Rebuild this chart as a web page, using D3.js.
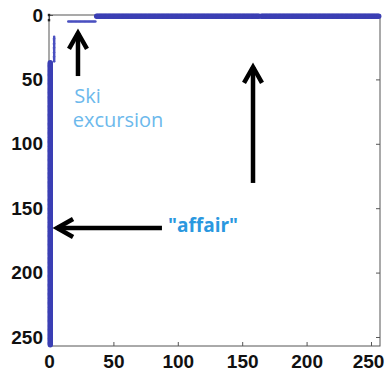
<!DOCTYPE html>
<html><head><meta charset="utf-8">
<script src="https://cdn.jsdelivr.net/npm/d3@7"></script>
<style>body{margin:0;background:#fff}svg{display:block}</style>
</head><body><svg id="c" width="385" height="378"></svg>
<script>
// Sparse matrix (spy plot), n = 256. Nonzero runs.
const n = 256;
// horizontal runs: row, first col, last col
const hRunRow   = [1, 1, 5];
const hRunFrom  = [37, 165, 15];
const hRunTo    = [163, 256, 36];
const hRunWeak  = [0, 0, 1];
// vertical runs: col, first row, last row
const vRunCol   = [1, 4];
const vRunFrom  = [37, 17];
const vRunTo    = [256, 36];
const vRunWeak  = [0, 1];
// isolated dark entries near origin
const dotRow = [0, 4];
const dotCol = [0, 0];
const tickVals = [0, 50, 100, 150, 200, 250];
// annotations (data coords: col, row)
const arrowTipCol  = [22.5, 158.4, 4.7];
const arrowTipRow  = [12.4, 38.8, 165.4];
const arrowTailCol = [22.5, 158.4, 87.7];
const arrowTailRow = [47.4, 130.4, 165.4];
const labelText = ["Ski", "excursion", "\"affair\""];
const labelCol  = [19.6, 18.4, 92.4];
const labelRow  = [68.3, 87.3, 168.8];
const labelColor = ["#6cb9ec", "#6cb9ec", "#2a98df"];
const labelWeight = ["normal", "normal", "bold"];
const labelSize = [20, 20, 19];

const svg = d3.select("#c");
const x = d3.scaleLinear().domain([0, n + 1]).range([49, 380]);
const y = d3.scaleLinear().domain([0, n + 1]).range([15, 346]);

// build points
const pts = [];
hRunRow.forEach((r, i) => d3.range(hRunFrom[i], hRunTo[i] + 1).forEach(c => pts.push({r, c, w: hRunWeak[i]})));
vRunCol.forEach((c, i) => d3.range(vRunFrom[i], vRunTo[i] + 1).forEach(r => pts.push({r, c, w: vRunWeak[i]})));

// frame
svg.append("rect").attr("x", x(0)).attr("y", y(0)).attr("width", x(n + 1) - x(0)).attr("height", y(n + 1) - y(0))
  .attr("fill", "none").attr("stroke", "#555").attr("stroke-width", 1);

function styleAxis(g, labels) {
  g.select(".domain").remove();
  g.selectAll(".tick line").attr("stroke", "#555");
  if (!labels) g.selectAll(".tick text").remove();
  else g.selectAll(".tick text").attr("font-family", "Liberation Sans, Arial, sans-serif")
      .attr("font-size", 19).attr("font-weight", "bold").attr("fill", "#111");
}
svg.append("g").attr("transform", `translate(${x(0)},0)`)
  .call(d3.axisLeft(y).tickValues(tickVals).tickSize(-4).tickPadding(6)).call(g => styleAxis(g, true));
svg.append("g").attr("transform", `translate(0,${y(n + 1)})`)
  .call(d3.axisBottom(x).tickValues(tickVals).tickSize(-4).tickPadding(9)).call(g => styleAxis(g, true))
  .call(g => g.selectAll(".tick text").filter(d => d === 250).attr("dx", -3));
svg.append("g").attr("transform", `translate(${x(n + 1)},0)`)
  .call(d3.axisRight(y).tickValues(tickVals).tickSize(-4)).call(g => styleAxis(g, false));
svg.append("g").attr("transform", `translate(0,${y(0)})`)
  .call(d3.axisTop(x).tickValues(tickVals).tickSize(-4)).call(g => styleAxis(g, false));

// nonzeros
svg.append("g").selectAll("circle").data(pts).join("circle")
  .attr("cx", d => x(d.c)).attr("cy", d => y(d.r))
  .attr("r", d => d.w ? 1.3 : 2.7)
  .attr("fill", d => d.w ? "#4a50c0" : "#3b3fb4");
svg.append("g").selectAll("rect").data(dotRow).join("rect")
  .attr("x", (d, i) => x(dotCol[i]) - 1.2).attr("y", d => y(d) - 1.2)
  .attr("width", 2.4).attr("height", 2.4).attr("fill", "#222");

// arrows
const ag = svg.append("g").attr("stroke", "#000").attr("fill", "none")
  .attr("stroke-width", 4.5).attr("stroke-linejoin", "miter");
arrowTipCol.forEach((tc, i) => {
  const x1 = x(tc), y1 = y(arrowTipRow[i]), x0 = x(arrowTailCol[i]), y0 = y(arrowTailRow[i]);
  const ang = Math.atan2(y1 - y0, x1 - x0);
  const hl = 18, hw = 9;
  const bx = x1 - Math.cos(ang) * hl, by = y1 - Math.sin(ang) * hl;
  const px = -Math.sin(ang) * hw, py = Math.cos(ang) * hw;
  ag.append("line").attr("x1", x0).attr("y1", y0).attr("x2", x1 - Math.cos(ang) * 2).attr("y2", y1 - Math.sin(ang) * 2);
  ag.append("path").attr("d", `M${bx + px},${by + py}L${x1 - Math.cos(ang) * 2},${y1 - Math.sin(ang) * 2}L${bx - px},${by - py}`);
});

// labels
svg.append("g").selectAll("text").data(labelText).join("text")
  .attr("x", (d, i) => x(labelCol[i])).attr("y", (d, i) => y(labelRow[i]))
  .attr("font-family", "Open Sans, sans-serif").attr("font-size", (d, i) => labelSize[i])
  .attr("font-weight", (d, i) => labelWeight[i])
  .attr("fill", (d, i) => labelColor[i]).text(d => d);
</script></body></html>
